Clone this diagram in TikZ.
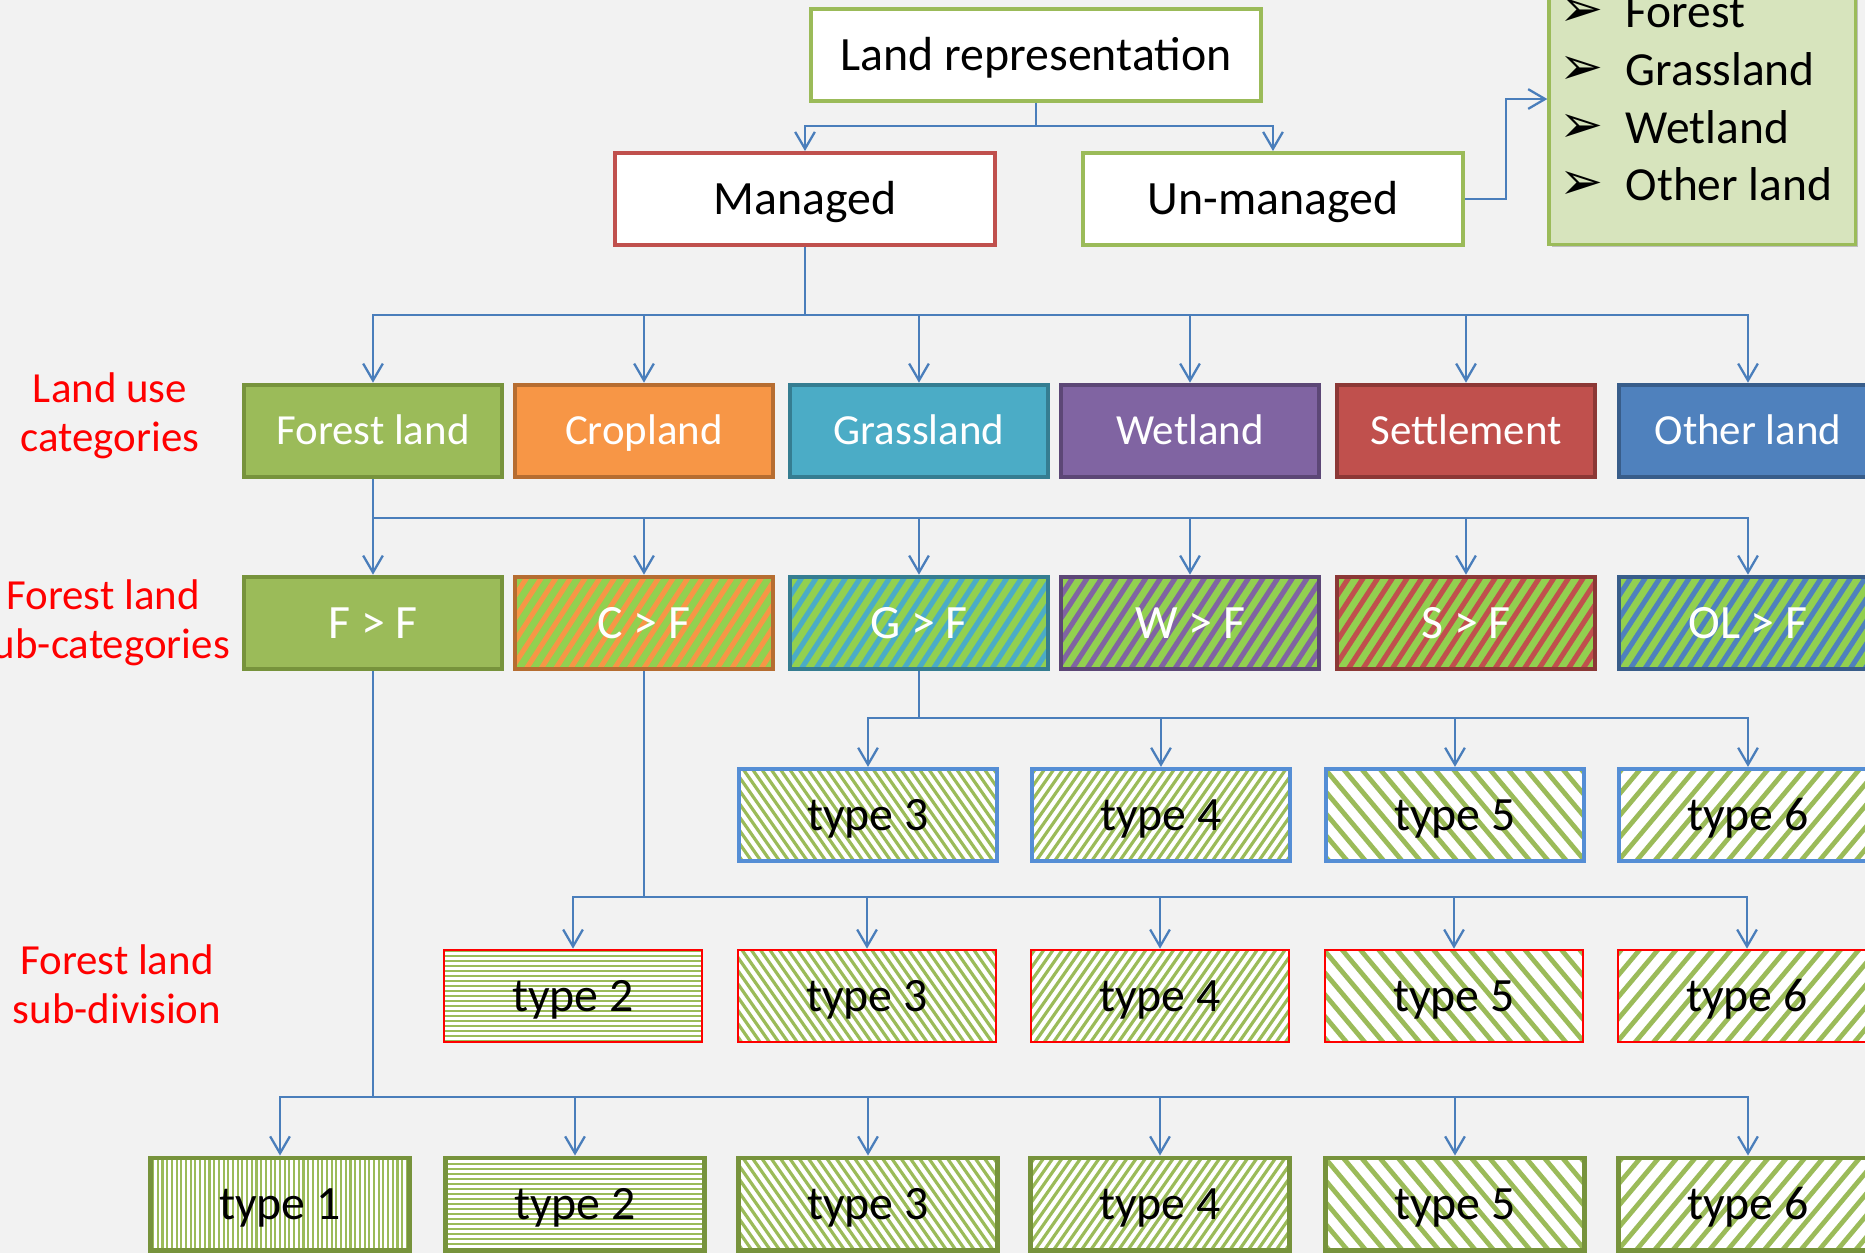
\documentclass[tikz,border=0pt]{standalone}
\usepackage{fontspec}
\setmainfont{Carlito}
\newfontfamily\symfont{DejaVu Sans}
\usetikzlibrary{arrows.meta,shadows,calc}

\definecolor{bgc}{HTML}{F2F2F2}
\definecolor{connc}{HTML}{4A7EBB}
\definecolor{fgreen}{HTML}{9BBB59}
\definecolor{fgreenD}{HTML}{77933C}
\definecolor{crop}{HTML}{F79646}
\definecolor{cropD}{HTML}{B66D31}
\definecolor{grass}{HTML}{4BACC6}
\definecolor{grassD}{HTML}{357D91}
\definecolor{wet}{HTML}{8064A2}
\definecolor{wetD}{HTML}{5C4776}
\definecolor{sett}{HTML}{C0504D}
\definecolor{settD}{HTML}{8C3836}
\definecolor{oth}{HTML}{4F81BD}
\definecolor{othD}{HTML}{385D8A}
\definecolor{bgreen}{HTML}{92D050}
\definecolor{listfill}{HTML}{D7E4BD}
\definecolor{typeblue}{HTML}{558ED5}
\definecolor{patgreen}{HTML}{9BBB59}
\definecolor{labred}{HTML}{FF0000}

\tikzset{
  stripes/.style n args={4}{path picture={
    \foreach \k in {-45,...,45}{
      \draw[#1, line width=#4, line cap=butt]
        ([shift={(#2-90:\k*#3)}]path picture bounding box.center) ++(#2:-170) -- ++(#2:340);
    }
  }},
  basebox/.style={rectangle, inner sep=0pt, minimum width=2.58cm, minimum height=0.92cm,
    font=\fontsize{12.2}{14}\selectfont, text height=7.85pt, text depth=0pt},
  bigtext/.style={font=\fontsize{13.6}{16}\selectfont, text height=8.75pt, text depth=0pt},
  topbox/.style={basebox, bigtext, fill=white, line width=1.1pt, minimum width=3.79cm},
  catbox/.style 2 args={basebox, fill=#1, draw=#2, line width=1.3pt, text=white},
  subbox/.style 2 args={basebox, bigtext, fill=bgreen, draw=#2, line width=1.3pt, text=white,
    stripes={#1}{57}{12.3}{1.45pt}},
  typebox/.style={basebox, bigtext, fill=white, text=black},
  rowthree/.style={typebox, draw=typeblue, line width=1.2pt},
  rowfour/.style={typebox, draw=red, line width=0.75pt},
  rowfive/.style={typebox, draw=fgreenD, line width=1.4pt},
  tA/.style={stripes={patgreen}{90}{4.7}{0.6pt}},
  tB/.style={stripes={patgreen}{0}{5}{0.65pt}},
  tC/.style={stripes={patgreen}{-55}{7.6}{0.9pt}},
  tD/.style={stripes={patgreen}{55}{7.6}{0.9pt}},
  tE/.style={stripes={patgreen}{-50}{14}{1.35pt}},
  tF/.style={stripes={patgreen}{50}{14}{1.35pt}},
  conn/.style={draw=connc, line width=0.65pt, -{Straight Barb[length=4.8pt,width=5.6pt]}},
  lab/.style={text=labred, align=center, font=\fontsize{12.2}{14}\selectfont},
  item/.style={anchor=base west, font=\fontsize{13.5}{16}\selectfont, inner sep=0pt},
  bullet/.style={anchor=base, font=\symfont\fontsize{15}{17}\selectfont, inner sep=0pt},
}

\begin{document}
\begin{tikzpicture}[x=0.01cm,y=0.01cm]
\fill[bgc] (0,0) rectangle (1865,-1253);
\useasboundingbox (0,0) rectangle (1865,-1253);

% top level
\node[topbox, draw=fgreen, minimum width=4.5cm] (lr) at (1036,-55) {Land representation};
\node[topbox, draw=sett] (man) at (805,-199) {Managed};
\node[topbox, draw=fgreen] (unm) at (1273,-199) {Un-managed};

% list box
\node[rectangle, fill=listfill, draw=fgreen, line width=0.9pt, minimum width=3.06cm,
  minimum height=2.9cm, inner sep=0pt,
  drop shadow={shadow xshift=0.8pt, shadow yshift=-0.8pt, opacity=0.45}] (list) at (1702,-99) {};
\node[bullet] (b1) at (1582,-26) {➢};
\node[bullet] (b2) at (1582,-84) {➢};
\node[bullet] (b3) at (1582,-142) {➢};
\node[bullet] (b4) at (1582,-199) {➢};
\node[item] (i1) at (1625,-27) {Forest};
\node[item] (i2) at (1625,-85) {Grassland};
\node[item] (i3) at (1625,-143) {Wetland};
\node[item] (i4) at (1625,-200) {Other land};

% labels
\node[lab] (l1) at (110,-416) {Land use\\categories};
\node[lab] (l2) at (103,-623) {Forest land\\sub-categories};
\node[lab] (l3) at (117,-984) {Forest land\\sub-division};

% row 1
\node[catbox={fgreen}{fgreenD}] (fl) at (373,-431) {Forest land};
\node[catbox={crop}{cropD}] (cl) at (644,-431) {Cropland};
\node[catbox={grass}{grassD}] (gl) at (919,-431) {Grassland};
\node[catbox={wet}{wetD}] (wl) at (1190,-431) {Wetland};
\node[catbox={sett}{settD}] (sl) at (1466,-431) {Settlement};
\node[catbox={oth}{othD}] (ol) at (1748,-431) {Other land};

% row 2
\node[catbox={fgreen}{fgreenD}, bigtext] (ff) at (373,-623) {F > F};
\node[subbox={crop}{cropD}] (cf) at (644,-623) {C > F};
\node[subbox={grass}{grassD}] (gf) at (919,-623) {G > F};
\node[subbox={wet}{wetD}] (wf) at (1190,-623) {W > F};
\node[subbox={sett}{settD}] (sf) at (1466,-623) {S > F};
\node[subbox={oth}{othD}] (of) at (1748,-623) {OL > F};

% row 3
\node[rowthree, tC] (g3) at (868,-815) {type 3};
\node[rowthree, tD] (g4) at (1161,-815) {type 4};
\node[rowthree, tE] (g5) at (1455,-815) {type 5};
\node[rowthree, tF] (g6) at (1748,-815) {type 6};

% row 4
\node[rowfour, tB] (c2) at (573,-996) {type 2};
\node[rowfour, tC] (c3) at (867,-996) {type 3};
\node[rowfour, tD] (c4) at (1160,-996) {type 4};
\node[rowfour, tE] (c5) at (1454,-996) {type 5};
\node[rowfour, tF] (c6) at (1747,-996) {type 6};

% row 5
\node[rowfive, tA] (f1) at (280,-1204) {type 1};
\node[rowfive, tB] (f2) at (575,-1204) {type 2};
\node[rowfive, tC] (f3) at (868,-1204) {type 3};
\node[rowfive, tD] (f4) at (1160,-1204) {type 4};
\node[rowfive, tE] (f5) at (1455,-1204) {type 5};
\node[rowfive, tF] (f6) at (1748,-1204) {type 6};

% connectors
\coordinate (bus0) at (0,-126);
\coordinate (bus1) at (0,-315);
\coordinate (bus2) at (0,-518);
\coordinate (bus3) at (0,-718);
\coordinate (bus4) at (0,-897);
\coordinate (bus5) at (0,-1097);

\foreach \n in {man,unm}
  \draw[conn] (lr.south) -- (lr.south |- bus0) -| (\n.north);
\draw[conn] (unm.east) -| ($(unm.east)!.5!(list.west)$) |- (list.west);
\foreach \n in {fl,cl,gl,wl,sl,ol}
  \draw[conn] (man.south) -- (man.south |- bus1) -| (\n.north);
\foreach \n in {ff,cf,gf,wf,sf,of}
  \draw[conn] (fl.south) -- (fl.south |- bus2) -| (\n.north);
\foreach \n in {g3,g4,g5,g6}
  \draw[conn] (gf.south) -- (gf.south |- bus3) -| (\n.north);
\foreach \n in {c2,c3,c4,c5,c6}
  \draw[conn] (cf.south) -- (cf.south |- bus4) -| (\n.north);
\foreach \n in {f1,f2,f3,f4,f5,f6}
  \draw[conn] (ff.south) -- (ff.south |- bus5) -| (\n.north);
\end{tikzpicture}
\end{document}
